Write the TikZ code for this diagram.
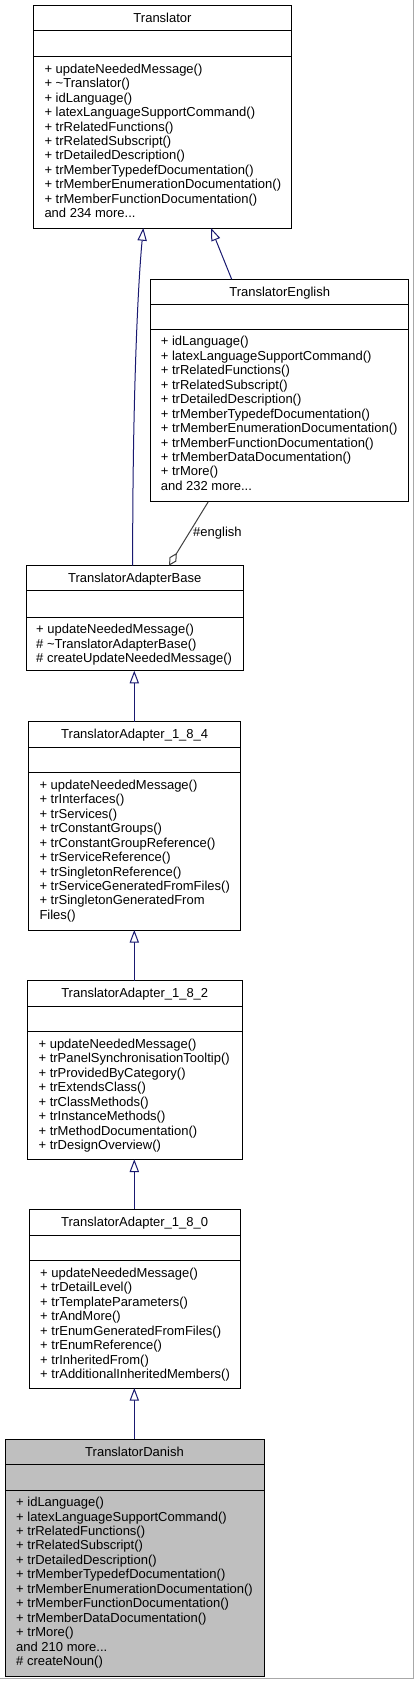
\documentclass[tikz,border=0pt]{standalone}
\usepackage{fontspec}
\setmainfont{Liberation Sans}
\usetikzlibrary{arrows.meta}
\definecolor{navy}{HTML}{191970}
\definecolor{aggcol}{HTML}{404040}
\definecolor{framecol}{HTML}{A8A8A8}
\definecolor{dangray}{HTML}{BFBFBF}
\newcommand\umlfont{\fontsize{13}{14.5}\selectfont}
\newcommand\tdots{.{}.{}.}
\tikzset{
  umlbox/.style={draw=black, line width=1pt, inner sep=0pt, outer sep=0pt, anchor=north west},
  umlsep/.style={draw=black, line width=1pt},
  umltitle/.style={anchor=base, inner sep=0pt, font=\umlfont},
  umltext/.style={anchor=base west, inner sep=0pt, font=\umlfont},
  inherit/.style={draw=navy, line width=1pt, -{Triangle[fill=white, length=12.7pt, width=9.3pt]}},
  aggr/.style={draw=aggcol, line width=1pt, {Diamond[fill=white, length=15pt, width=8pt]}-},
}
% #1 name, #2 L, #3 T, #4 R, #5 B, #6 d1, #7 d2, #8 title, #9 fill
\newcommand\umlclass[9]{%
  \node[umlbox, fill=#9, minimum width={(#4)-(#2)}, minimum height={(#5)-(#3)}] (#1) at (#2,#3) {};
  \draw[umlsep] (#2,#6) -- (#4,#6);
  \draw[umlsep] (#2,#7) -- (#4,#7);
  \node[umltitle] (#1-title) at ({((#2)+(#4))/2},{(#3)+17}) {#8};
}
% #1 name, #2 x, #3 first baseline, #4 list
\newcommand\umllines[4]{%
  \foreach \t [count=\i] in {#4} {
    \node[umltext] (#1-l\i) at (#2,{(#3)+(\i-1)*14.45}) {\t};
  }
}
\begin{document}
\begin{tikzpicture}[x=1pt,y=-1pt]
\useasboundingbox (0,0) rectangle (415,1683);
\draw[framecol, line width=1pt] (413.5,0) -- (413.5,1678.5) -- (0,1678.5);

\umlclass{tr}{33.3}{5.7}{291.7}{228}{31}{56.7}{Translator}{white}
\umllines{tr}{44.3}{73.3}{+ updateNeededMessage(), + \textasciitilde Translator(), + idLanguage(), + latexLanguageSupportCommand(), + trRelatedFunctions(), + trRelatedSubscript(), + trDetailedDescription(), + trMemberTypedefDocumentation(), + trMemberEnumerationDocumentation(), + trMemberFunctionDocumentation(), and 234 more\tdots}

\umlclass{eng}{150.7}{279.3}{408.7}{501.7}{304.3}{329.3}{TranslatorEnglish}{white}
\umllines{eng}{160.7}{345.9}{+ idLanguage(), + latexLanguageSupportCommand(), + trRelatedFunctions(), + trRelatedSubscript(), + trDetailedDescription(), + trMemberTypedefDocumentation(), + trMemberEnumerationDocumentation(), + trMemberFunctionDocumentation(), + trMemberDataDocumentation(), + trMore(), and 232 more\tdots}

\umlclass{base}{26}{565.7}{243.3}{670.7}{590.7}{617.3}{TranslatorAdapterBase}{white}
\umllines{base}{36}{633.9}{+ updateNeededMessage(), \# \textasciitilde TranslatorAdapterBase(), \# createUpdateNeededMessage()}

\umlclass{a184}{28.7}{721.7}{240.7}{930}{747.3}{772.7}{TranslatorAdapter\_1\_8\_4}{white}
\umllines{a184}{39.3}{789.3}{+ updateNeededMessage(), + trInterfaces(), + trServices(), + trConstantGroups(), + trConstantGroupReference(), + trServiceReference(), + trSingletonReference(), + trServiceGeneratedFromFiles(), + trSingletonGeneratedFrom, Files()}

\umlclass{a182}{27.5}{980.7}{242}{1159.3}{1006}{1031.7}{TranslatorAdapter\_1\_8\_2}{white}
\umllines{a182}{38.4}{1048.3}{+ updateNeededMessage(), + trPanelSynchronisationTooltip(), + trProvidedByCategory(), + trExtendsClass(), + trClassMethods(), + trInstanceMethods(), + trMethodDocumentation(), + trDesignOverview()}

\umlclass{a180}{29.3}{1209.3}{240}{1388}{1235}{1260.7}{TranslatorAdapter\_1\_8\_0}{white}
\umllines{a180}{40}{1277.3}{+ updateNeededMessage(), + trDetailLevel(), + trTemplateParameters(), + trAndMore(), + trEnumGeneratedFromFiles(), + trEnumReference(), + trInheritedFrom(), + trAdditionalInheritedMembers()}

\umlclass{dan}{5}{1439.3}{264}{1676}{1464.3}{1490}{TranslatorDanish}{dangray}
\umllines{dan}{16}{1506.6}{+ idLanguage(), + latexLanguageSupportCommand(), + trRelatedFunctions(), + trRelatedSubscript(), + trDetailedDescription(), + trMemberTypedefDocumentation(), + trMemberEnumerationDocumentation(), + trMemberFunctionDocumentation(), + trMemberDataDocumentation(), + trMore(), and 210 more\tdots, \# createNoun()}

% connectors
\draw[inherit] (base.north -| 132.7,0) .. controls (132.4,430) and (136.5,300) .. (tr.south -| 143.3,0);
\draw[inherit] (eng.north -| 231.7,0) -- (tr.south -| 211,0);
\draw[aggr] (base.north -| 169,0) -- (eng.south -| 208.3,0);
\node[umltext] (englab) at (193,536.5) {\#english};
\draw[inherit] (a184.north -| 134.3,0) -- (base.south -| 134.3,0);
\draw[inherit] (a182.north -| 134.3,0) -- (a184.south -| 134.3,0);
\draw[inherit] (a180.north -| 134.3,0) -- (a182.south -| 134.3,0);
\draw[inherit] (dan.north -| 134.3,0) -- (a180.south -| 134.3,0);
\end{tikzpicture}
\end{document}
